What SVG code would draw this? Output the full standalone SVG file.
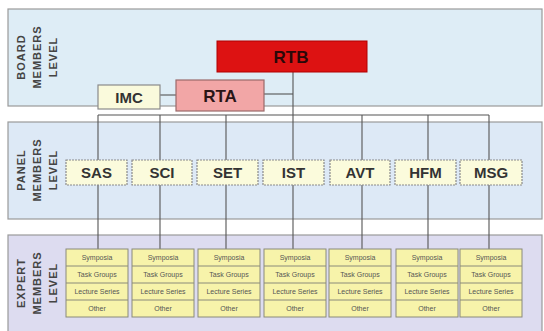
<svg xmlns="http://www.w3.org/2000/svg" width="544" height="331" viewBox="0 0 544 331">
<style>
.band{stroke:#9a9a9a;stroke-width:1.2}
.lvl{font-family:"Liberation Sans",Arial,sans-serif;font-weight:bold;font-size:11px;letter-spacing:1px;fill:#444;text-anchor:middle}
.conn{stroke:#555;stroke-width:1.1;fill:none}
.panel rect{fill:#fbfbdc;stroke:#8a8a8a;stroke-width:1.2;stroke-dasharray:2 1}
.pt{font-family:"Liberation Sans",Arial,sans-serif;font-weight:bold;font-size:15px;fill:#333;text-anchor:middle}
.exp rect{fill:#f7f3aa;stroke:#8a8a7a;stroke-width:1}
.exp line{stroke:#8a8a7a;stroke-width:1}
.et{font-family:"Liberation Sans",Arial,sans-serif;font-size:7px;fill:#555;text-anchor:middle}
</style>
<rect width="544" height="331" fill="#ffffff"/>
<g id="bands">
<rect class="band" x="8" y="9" width="534" height="97" fill="#deedf6"/>
<rect class="band" x="8" y="122" width="534" height="97" fill="#dde9f6"/>
<rect class="band" x="8" y="235" width="534" height="100" fill="#dddcf0"/>
</g>
<g id="level-labels">
<text class="lvl" transform="translate(25,57) rotate(-90)">BOARD</text>
<text class="lvl" transform="translate(41,57) rotate(-90)">MEMBERS</text>
<text class="lvl" transform="translate(57,57) rotate(-90)">LEVEL</text>
<text class="lvl" transform="translate(25,170) rotate(-90)">PANEL</text>
<text class="lvl" transform="translate(41,170) rotate(-90)">MEMBERS</text>
<text class="lvl" transform="translate(57,170) rotate(-90)">LEVEL</text>
<text class="lvl" transform="translate(25,283) rotate(-90)">EXPERT</text>
<text class="lvl" transform="translate(41,283) rotate(-90)">MEMBERS</text>
<text class="lvl" transform="translate(57,283) rotate(-90)">LEVEL</text>
</g>
<g id="connectors">
<line class="conn" x1="160" y1="95" x2="176" y2="95"/>
<line class="conn" x1="264" y1="94" x2="293" y2="94"/>
<line class="conn" x1="293" y1="72" x2="293" y2="249"/>
<line class="conn" x1="98" y1="115" x2="489" y2="115"/>
<line class="conn" x1="98" y1="115" x2="98" y2="249"/>
<line class="conn" x1="160" y1="115" x2="160" y2="249"/>
<line class="conn" x1="226" y1="115" x2="226" y2="249"/>
<line class="conn" x1="362" y1="115" x2="362" y2="249"/>
<line class="conn" x1="428" y1="115" x2="428" y2="249"/>
<line class="conn" x1="489" y1="115" x2="489" y2="249"/>
</g>
<g id="RTB">
<rect x="217" y="41" width="150" height="31" fill="#dd1212" stroke="#b00000" stroke-width="1"/>
<text x="291" y="63" font-family="Liberation Sans,Arial,sans-serif" font-weight="bold" font-size="17" fill="#2a0808" text-anchor="middle">RTB</text>
</g>
<g id="RTA">
<rect x="176" y="80" width="88" height="31" fill="#f2a6a6" stroke="#9a6a6a" stroke-width="1.2"/>
<text x="220" y="102" font-family="Liberation Sans,Arial,sans-serif" font-weight="bold" font-size="17" fill="#2a1515" text-anchor="middle">RTA</text>
</g>
<g id="IMC">
<rect x="98" y="85" width="62" height="24" fill="#fafadc" stroke="#8a8a8a" stroke-width="1.2"/>
<text x="129" y="103" font-family="Liberation Sans,Arial,sans-serif" font-weight="bold" font-size="15" fill="#333" text-anchor="middle">IMC</text>
</g>
<g id="SAS" class="panel"><rect x="66" y="160" width="61" height="25"/><text class="pt" x="96.5" y="178">SAS</text></g>
<g id="SCI" class="panel"><rect x="132" y="160" width="60" height="25"/><text class="pt" x="162" y="178">SCI</text></g>
<g id="SET" class="panel"><rect x="197" y="160" width="61" height="25"/><text class="pt" x="227.5" y="178">SET</text></g>
<g id="IST" class="panel"><rect x="263" y="160" width="61" height="25"/><text class="pt" x="293.5" y="178">IST</text></g>
<g id="AVT" class="panel"><rect x="330" y="160" width="60" height="25"/><text class="pt" x="360" y="178">AVT</text></g>
<g id="HFM" class="panel"><rect x="395" y="160" width="61" height="25"/><text class="pt" x="425.5" y="178">HFM</text></g>
<g id="MSG" class="panel"><rect x="460" y="160" width="62" height="25"/><text class="pt" x="491" y="178">MSG</text></g>
<defs>
<g id="expbox" class="exp">
<rect x="0" y="0" width="62" height="68"/>
<line x1="0" y1="17" x2="62" y2="17"/>
<line x1="0" y1="34" x2="62" y2="34"/>
<line x1="0" y1="51" x2="62" y2="51"/>
<text class="et" x="31" y="11">Symposia</text>
<text class="et" x="31" y="28">Task Groups</text>
<text class="et" x="31" y="45">Lecture Series</text>
<text class="et" x="31" y="62">Other</text>
</g>
</defs>
<g id="SAS-experts"><use href="#expbox" x="66" y="249"/></g>
<g id="SCI-experts"><use href="#expbox" x="132" y="249"/></g>
<g id="SET-experts"><use href="#expbox" x="198" y="249"/></g>
<g id="IST-experts"><use href="#expbox" x="264" y="249"/></g>
<g id="AVT-experts"><use href="#expbox" x="329" y="249"/></g>
<g id="HFM-experts"><use href="#expbox" x="396" y="249"/></g>
<g id="MSG-experts"><use href="#expbox" x="460" y="249"/></g>
</svg>
